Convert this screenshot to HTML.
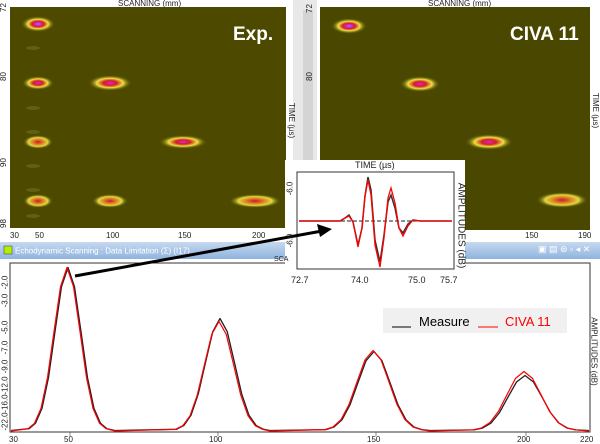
<!DOCTYPE html>
<html><head><meta charset="utf-8"><style>
body{margin:0;width:600px;height:444px;overflow:hidden;background:#fff;font-family:"Liberation Sans",sans-serif;position:relative}
.a{position:absolute}
.t{position:absolute;font-size:8px;color:#222;white-space:nowrap}
.r{transform:rotate(-90deg);transform-origin:center}
.r9{transform:rotate(90deg);transform-origin:center}
</style></head><body>
<svg class="a" style="left:0;top:0" width="600" height="444">
<defs>
<radialGradient id="sp" cx="50%" cy="50%" r="50%">
<stop offset="0" stop-color="#40a0ff"/><stop offset="0.15" stop-color="#e020e0"/><stop offset="0.35" stop-color="#d02020"/><stop offset="0.6" stop-color="#f0e040"/><stop offset="1" stop-color="#4d4a00" stop-opacity="0"/></radialGradient>
<radialGradient id="sp2" cx="50%" cy="50%" r="50%">
<stop offset="0" stop-color="#e020e0"/><stop offset="0.3" stop-color="#d02020"/><stop offset="0.6" stop-color="#f0e040"/><stop offset="1" stop-color="#4d4a00" stop-opacity="0"/></radialGradient>
<radialGradient id="sp3" cx="50%" cy="50%" r="50%">
<stop offset="0" stop-color="#c81830"/><stop offset="0.35" stop-color="#e08020"/><stop offset="0.65" stop-color="#e0d840"/><stop offset="1" stop-color="#4d4a00" stop-opacity="0"/></radialGradient>
<linearGradient id="tb" x1="0" y1="0" x2="0" y2="1"><stop offset="0" stop-color="#c6d9f0"/><stop offset="1" stop-color="#8fb3de"/></linearGradient>
</defs>
<rect x="10" y="7" width="276" height="221" fill="#4d4a00"/>
<rect x="320" y="7" width="270" height="223" fill="#4a4700"/>
<rect x="293" y="0" width="24" height="240" fill="#e8e8e8"/>
<rect x="303" y="10" width="10" height="220" fill="#d4d4d4"/>
<ellipse cx="38" cy="24" rx="17" ry="8" fill="url(#sp)"/>
<ellipse cx="38" cy="83" rx="16" ry="7" fill="url(#sp2)"/>
<ellipse cx="110" cy="83" rx="22" ry="8" fill="url(#sp2)"/>
<ellipse cx="38" cy="142" rx="15" ry="7" fill="url(#sp3)"/>
<ellipse cx="183" cy="142" rx="24" ry="7" fill="url(#sp2)"/>
<ellipse cx="38" cy="201" rx="15" ry="7" fill="url(#sp3)"/>
<ellipse cx="110" cy="201" rx="18" ry="7" fill="url(#sp3)"/>
<ellipse cx="255" cy="201" rx="26" ry="7" fill="url(#sp3)"/>
<g fill="#6a6a10" opacity="0.7"><ellipse cx="33" cy="48" rx="7" ry="2"/><ellipse cx="33" cy="108" rx="7" ry="2"/><ellipse cx="33" cy="132" rx="7" ry="2"/><ellipse cx="33" cy="166" rx="7" ry="2"/><ellipse cx="33" cy="190" rx="7" ry="2"/><ellipse cx="33" cy="216" rx="7" ry="2"/></g>
<ellipse cx="349" cy="26" rx="18" ry="8" fill="url(#sp)"/>
<ellipse cx="420" cy="84" rx="20" ry="8" fill="url(#sp2)"/>
<ellipse cx="489" cy="142" rx="24" ry="8" fill="url(#sp2)"/>
<ellipse cx="562" cy="200" rx="26" ry="8" fill="url(#sp3)"/>
<text x="233" y="40" fill="#fff" font-size="19" font-weight="bold" font-family="Liberation Sans">Exp.</text>
<text x="510" y="40" fill="#fff" font-size="19" font-weight="bold" font-family="Liberation Sans">CIVA 11</text>
<rect x="0" y="242" width="600" height="17" fill="url(#tb)"/>
<rect x="4" y="246" width="8" height="8" fill="#b0f000" stroke="#555" stroke-width="0.6"/>
<text x="15" y="253.5" font-size="8" fill="#fff" font-family="Liberation Sans">Echodynamic Scanning  : Data Limitation (Σ) (I17)</text>
<rect x="10" y="263" width="580" height="169" fill="none" stroke="#333" stroke-width="1"/>
<g stroke="#555" stroke-width="0.7"><line x1="70" y1="432" x2="70" y2="436"/><line x1="218" y1="432" x2="218" y2="436"/><line x1="376" y1="432" x2="376" y2="436"/><line x1="526" y1="432" x2="526" y2="436"/></g>
<polyline fill="none" stroke="#222" stroke-width="1.3" stroke-linejoin="round" points="11,430.5 29,428.7 35.5,423.3 42,408.4 48.5,377.6 55,331.6 61.5,286.7 68,267.5 74.5,286.7 81,331.6 87.5,377.6 94,408.4 100.5,423.3 107,428.7 115,430.5 176.5,429.3 183.75,425.6 191,415.3 198.25,394.1 205.5,362.6 212.75,331.7 220,318.5 227.25,331.7 234.5,362.6 241.75,394.1 249,415.3 256.25,425.6 263.5,429.3 270,430.5 326,429.6 334,427 342,419.8 350,404.8 358,382.6 366,360.8 374,351.5 382,360.8 390,382.6 398,404.8 406,419.8 414,427 422,429.6 430,430.5 474,429.9 482.5,428.1 491,423.1 499.5,412.6 508,397.1 516.5,382 525,375.5 533.5,382 542,397.1 550.5,412.6 559,423.1 567.5,428.1 576,429.9 589,430.5"/>
<polyline fill="none" stroke="#f00" stroke-width="1.2" stroke-linejoin="round" points="11,431 28,428.7 34.5,423.3 41,408.4 47.5,377.6 54,331.6 60.5,286.7 67,267.5 73.5,286.7 80,331.6 86.5,377.6 93,408.4 99.5,423.3 106,428.7 115,431 175.5,429.3 182.75,425.7 190,415.8 197.25,395.1 204.5,364.4 211.75,334.3 219,321.5 226.25,334.3 233.5,364.4 240.75,395.1 248,415.8 255.25,425.7 262.5,429.3 270,431 325,429.6 333,427 341,419.7 349,404.5 357,382 365,359.9 373,350.5 381,359.9 389,382 397,404.5 405,419.7 413,427 421,429.6 430,431 473,429.8 481.5,427.9 490,422.5 498.5,411.3 507,394.7 515.5,378.4 524,371.5 532.5,378.4 541,394.7 549.5,411.3 558,422.5 566.5,427.9 575,429.8 589,431"/>
<rect x="383" y="308" width="184" height="25" fill="#f0f0f0"/>
<line x1="392" y1="327" x2="411" y2="327" stroke="#000"/>
<text x="419" y="326" font-size="13" fill="#000" font-family="Liberation Sans">Measure</text>
<line x1="478" y1="327" x2="498" y2="327" stroke="#f00"/>
<text x="505" y="326" font-size="13" fill="#f00" font-family="Liberation Sans">CIVA 11</text>
<rect x="285" y="160" width="180" height="124" fill="#fff"/>
<rect x="297" y="172" width="157" height="97" fill="none" stroke="#333"/>
<line x1="299" y1="221" x2="452" y2="221" stroke="#222" stroke-width="1" stroke-dasharray="4 2"/>
<polyline fill="none" stroke="#333" stroke-width="1.5" points="299,221 340,221 345,218 349,215 353,222 358,245 362,228 365,196 368,177 371,190 375,240 380,262 384,235 388,202 391,195 395,208 399,228 403,233 408,224 413,220 420,221 452,221"/>
<polyline fill="none" stroke="#f00" stroke-width="1.3" points="299,221 340,221 345,218 349,216 353,222 358,247 362,228 365,196 368,180 371,195 375,245 380,267 384,238 388,198 391,188 395,203 399,228 403,236 408,226 413,220 420,221 452,221"/>
<line x1="75" y1="276" x2="322" y2="231" stroke="#000" stroke-width="3"/>
<polygon points="332,229 317,224 320,237" fill="#000"/>
</svg>
<div class="t" style="left:118px;top:-1px">SCANNING (mm)</div>
<div class="t" style="left:428px;top:-1px">SCANNING (mm)</div>
<div class="t" style="left:10px;top:231px;width:290px;height:10px">
<span class="a" style="left:0">30</span><span class="a" style="left:25px">50</span><span class="a" style="left:96px">100</span><span class="a" style="left:168px">150</span><span class="a" style="left:242px">200</span></div>
<div class="t" style="left:525px;top:231px">150</div><div class="t" style="left:578px;top:231px">190</div>
<div class="t r" style="left:-1px;top:3px">72</div><div class="t r" style="left:-1px;top:72px">80</div><div class="t r" style="left:-1px;top:158px">90</div><div class="t r" style="left:-1px;top:219px">98</div>
<div class="t r" style="left:305px;top:4px">72</div><div class="t r" style="left:305px;top:72px">80</div>
<div class="t r9" style="left:274px;top:116px">TIME (µs)</div>
<div class="t r9" style="left:578px;top:106px">TIME (µs)</div>
<div class="t" style="left:355px;top:160px;font-size:9px">TIME (µs)</div>
<div class="t r9" style="left:418px;top:220px;font-size:10px">AMPLITUDES (dB)</div>
<div class="t r" style="left:283px;top:184px">-6.0</div><div class="t r" style="left:283px;top:236px">-6.0</div>
<div class="t" style="left:291px;top:275px;font-size:9px">72.7</div><div class="t" style="left:351px;top:275px;font-size:9px">74.0</div><div class="t" style="left:408px;top:275px;font-size:9px">75.0</div><div class="t" style="left:440px;top:275px;font-size:9px">75.7</div>
<div class="t" style="left:274px;top:256px;font-size:7px">SCA</div>
<div class="t r9" style="left:560px;top:347px">AMPLITUDES (dB)</div>
<div class="t" style="left:9px;top:435px">30</div><div class="t" style="left:64px;top:435px">50</div><div class="t" style="left:209px;top:435px">100</div><div class="t" style="left:367px;top:435px">150</div><div class="t" style="left:517px;top:435px">200</div><div class="t" style="left:580px;top:435px">220</div>
<div class="t r" style="left:-2px;top:278px">-2.0</div><div class="t r" style="left:-2px;top:296px">-3.0</div><div class="t r" style="left:-2px;top:323px">-5.0</div><div class="t r" style="left:-2px;top:343px">-7.0</div><div class="t r" style="left:-2px;top:362px">-9.0</div><div class="t r" style="left:-4px;top:381px">-12.0</div><div class="t r" style="left:-4px;top:399px">-16.0</div><div class="t r" style="left:-4px;top:417px">-22.0</div>
<div class="t" style="left:538px;top:244px;color:#fff;font-size:9px">▣ ▤ ⊜ ▫ ◂ ✕</div>
</body></html>
